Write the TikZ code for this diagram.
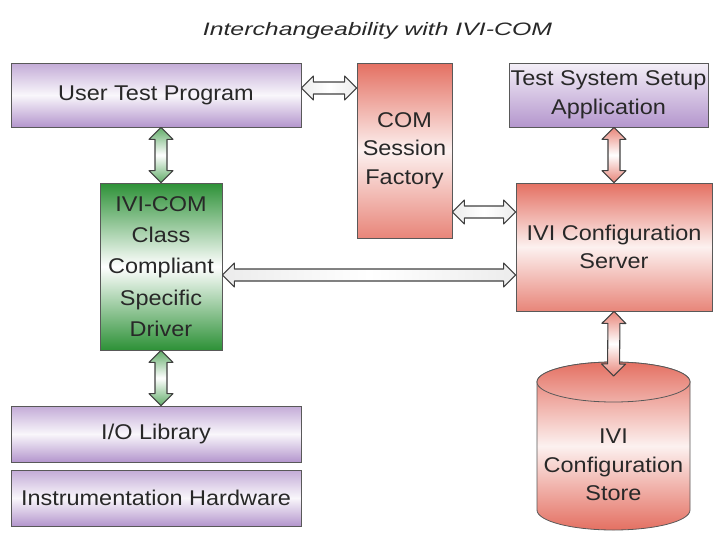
\documentclass[tikz,border=0pt]{standalone}
\usepackage{fontspec}
\setmainfont[FakeStretch=1.1]{Liberation Sans}
\newfontfamily\titlefont[FakeStretch=1.38]{Liberation Sans}
\usepackage{xcolor}
\usepackage{tikz}
\usetikzlibrary{arrows.meta,positioning,calc}

\definecolor{boxpurple}{RGB}{180,150,205}
\definecolor{boxred}{RGB}{228,112,98}
\definecolor{boxgreen}{RGB}{45,145,55}
\definecolor{txtgray}{RGB}{40,40,40}

\tikzset{
  box/.style={draw=gray!70!black, line width=0.6pt, text=txtgray, align=center,
    inner sep=0pt, font=\fontsize{16}{21.5}\selectfont},
  purplebox/.style={box, top color=boxpurple!80, bottom color=boxpurple, middle color=white!92!boxpurple},
  setupbox/.style={box, top color=white!85!boxpurple, bottom color=boxpurple},
  redbox/.style={box, top color=boxred, bottom color=boxred!85, middle color=white!90!boxred},
  greenbox/.style={box, top color=boxgreen, bottom color=boxgreen, middle color=white},
  dblarrow/.style={draw=gray!50!black, line width=0.8pt, line join=round},
  greyarrow/.style={dblarrow, left color=gray!15, right color=gray!15, middle color=white},
  greenarrow/.style={dblarrow, top color=boxgreen!75, bottom color=boxgreen!75, middle color=white},
  redarrow/.style={dblarrow, top color=boxred!85, bottom color=boxred!85, middle color=white},
}

% two-headed block arrow between two points
\newcommand{\biarrow}[3][]{%
  \coordinate (ba-a) at (#2);
  \coordinate (ba-b) at (#3);
  \coordinate (ba-a1) at ($(ba-a)!9pt!(ba-b)$);
  \coordinate (ba-b1) at ($(ba-b)!9pt!(ba-a)$);
  \path[#1] (ba-a) -- ($(ba-a1)!9pt!90:(ba-b)$) -- ($(ba-a1)!4.5pt!90:(ba-b)$)
    -- ($(ba-b1)!4.5pt!-90:(ba-a)$) -- ($(ba-b1)!9pt!-90:(ba-a)$) -- (ba-b)
    -- ($(ba-b1)!9pt!90:(ba-a)$) -- ($(ba-b1)!4.5pt!90:(ba-a)$)
    -- ($(ba-a1)!4.5pt!-90:(ba-b)$) -- ($(ba-a1)!9pt!-90:(ba-b)$) -- cycle;
}

\begin{document}
\begin{tikzpicture}[x=0.75pt, y=-0.75pt]
\useasboundingbox (0,0) rectangle (718,533);

% Title
\node (title) at (377.5,31) {\titlefont\itshape\fontsize{13.5}{16}\selectfont\color{txtgray}Interchangeability with IVI-COM};

% Boxes
\node[purplebox, minimum width=217.5pt, minimum height=48pt] (utp) at (156,95) {User Test Program};
\node[redbox, minimum width=71.25pt, minimum height=131.25pt] (com) at (404.5,150.5) {COM\\Session\\Factory};
\node[setupbox, minimum width=149.25pt, minimum height=48pt] (tssa) at (608.5,95) {Test System Setup\\Application};
\node[redbox, minimum width=147pt, minimum height=96pt] (srv) at (614,247) {IVI Configuration\\Server};
\node[greenbox, minimum width=91.5pt, minimum height=125.25pt,
  font=\fontsize{16}{23.5}\selectfont] (drv) at (161,266.5) {IVI-COM\\Class\\Compliant\\Specific\\Driver};
\node[purplebox, minimum width=217.5pt, minimum height=42pt] (iolib) at (156,434) {I/O Library};
\node[purplebox, minimum width=217.5pt, minimum height=42pt] (hw) at (156,498) {Instrumentation Hardware};

% Store (cylinder)
\path[draw=gray!70!black, line width=0.6pt, top color=boxred, bottom color=boxred, middle color=white!90!boxred]
  (537,382) -- (537,510) arc[start angle=180, end angle=0, x radius=76.5, y radius=20]
  -- (690,382) arc[start angle=0, end angle=-180, x radius=76.5, y radius=20] -- cycle;
\path[draw=gray!70!black, line width=0.6pt, top color=boxred, bottom color=boxred!55]
  (613.5,382) ellipse [x radius=76.5, y radius=20];
\node[align=center, text=txtgray, font=\fontsize{16}{21.5}\selectfont] (store) at (613.5,465) {IVI\\Configuration\\Store};
\coordinate (storetop) at (613.5,376);

% Connectors
\biarrow[greyarrow]{[yshift=5.25pt]utp.east}{[yshift=5.25pt]utp.east -| com.west}
\biarrow[greenarrow]{drv.north |- utp.south}{drv.north}
\biarrow[greenarrow]{drv.south}{drv.south |- iolib.north}
\biarrow[greyarrow]{com.east |- 0,212}{srv.west |- 0,212}
\biarrow[greyarrow]{drv.east |- 0,275}{srv.west |- 0,275}
\biarrow[redarrow]{srv.north |- tssa.south}{srv.north}
\biarrow[redarrow]{srv.south}{storetop}
\end{tikzpicture}
\end{document}
